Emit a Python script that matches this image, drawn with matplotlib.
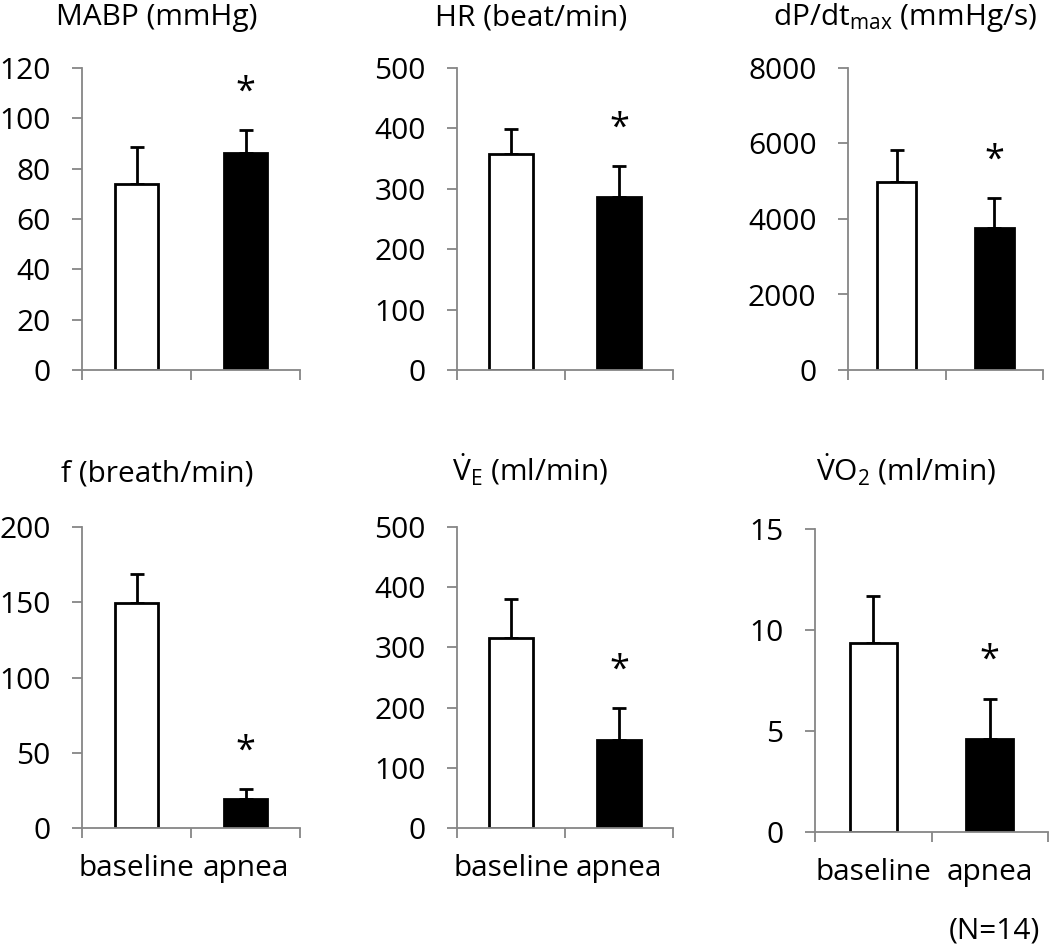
import matplotlib
matplotlib.use("Agg")
import matplotlib.pyplot as plt

plt.rcParams['font.family'] = ['Open Sans', 'DejaVu Sans']
plt.rcParams['mathtext.fontset'] = 'custom'
plt.rcParams['mathtext.rm'] = 'Open Sans'
plt.rcParams['mathtext.it'] = 'Open Sans:italic'
plt.rcParams['mathtext.bf'] = 'Open Sans:bold'

# ---- data ----
categories = ["baseline", "apnea"]
titles = ["MABP (mmHg)", "HR (beat/min)", r"dP/dt$_\mathrm{max}$ (mmHg/s)",
          "f (breath/min)", r"$\dot{\mathrm{V}}_\mathrm{E}$ (ml/min)",
          r"$\dot{\mathrm{V}}\mathrm{O}_2$ (ml/min)"]
ymax = [120, 500, 8000, 200, 500, 15]
ystep = [20, 100, 2000, 50, 100, 5]
baseline_mean = [73.8, 357, 4980, 149.6, 316, 9.35]
baseline_sd = [14.8, 42, 840, 19, 64, 2.35]
apnea_mean = [86.1, 287, 3770, 19.4, 146, 4.6]
apnea_sd = [9.3, 50, 775, 6.6, 53, 2.0]
significant = [True, True, True, True, True, True]
note = "(N=14)"

# ---- layout (pixels) ----
W, H = 1050, 946
fig = plt.figure(figsize=(W / 100, H / 100), dpi=100)

# left, right, top, bottom in pixels
rects = [(82, 300, 68, 370), (457, 673, 68, 370), (848, 1043, 68, 370),
         (82, 300, 527, 828), (457, 673, 527, 828), (815, 1048, 529, 832)]
title_xy = [(157, 25), (531, 25), (905, 25), (157, 481), (530, 481), (906, 481)]

gray = '#868686'
fs = 21.5

for i in range(6):
    l, r, t, b = rects[i]
    ax = fig.add_axes([l / W, 1 - b / H, (r - l) / W, (b - t) / H])
    xs = [0.5, 1.5]
    means = [baseline_mean[i], apnea_mean[i]]
    sds = [baseline_sd[i], apnea_sd[i]]
    ax.bar(xs, means, width=0.4, color=['white', 'black'], edgecolor='black',
           linewidth=2, zorder=2)
    ax.errorbar(xs, means, yerr=[[0, 0], sds], fmt='none', ecolor='black',
                elinewidth=2, capsize=5, capthick=2, zorder=1)
    if significant[i]:
        ax.annotate('*', xy=(1.5, apnea_mean[i] + apnea_sd[i]), xytext=(0, 27),
                    textcoords='offset points', ha='center', va='center',
                    fontsize=26)
    ax.set_xlim(0, 2)
    ax.set_ylim(0, ymax[i])
    n = int(round(ymax[i] / ystep[i]))
    yt = [k * ystep[i] for k in range(n + 1)]
    ax.set_yticks(yt)
    ax.set_yticklabels([str(v) for v in yt])
    ax.set_xticks([0, 1, 2])
    ax.set_xticklabels([])
    if i >= 3:
        ax.set_xticks(xs, minor=True)
        ax.set_xticklabels(categories, minor=True)
    ax.tick_params(axis='x', which='minor', length=0, pad=19, labelsize=fs)
    ax.tick_params(axis='x', which='major', direction='out', length=7.2,
                   width=1.3, color=gray)
    ax.tick_params(axis='y', direction='out', length=7.2, width=1.3,
                   color=gray, pad=15.5, labelsize=fs)
    for s in ['top', 'right']:
        ax.spines[s].set_visible(False)
    for s in ['left', 'bottom']:
        ax.spines[s].set_color(gray)
        ax.spines[s].set_linewidth(1.3)
        ax.spines[s].set_zorder(3)
    tx, ty = title_xy[i]
    fig.text(tx / W, 1 - ty / H, titles[i], ha='center', va='baseline',
             fontsize=fs)

fig.text(1040 / W, 1 - 938 / H, note, ha='right', va='baseline', fontsize=fs)

fig.savefig('out.png', dpi=100)
